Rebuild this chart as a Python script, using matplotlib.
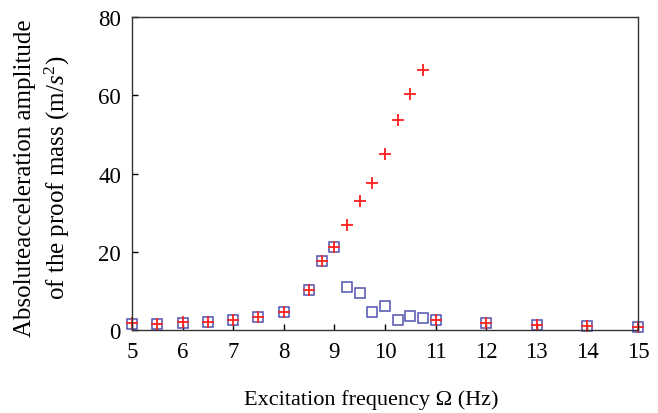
import matplotlib
matplotlib.use("Agg")
import matplotlib.pyplot as plt

freq = [5, 5.5, 6, 6.5, 7, 7.5, 8, 8.5, 8.75, 9, 9.25, 9.5, 9.75, 10, 10.25, 10.5, 10.75, 11, 12, 13, 14, 15]
linear_amp = [1.8, 1.5, 2.0, 2.1, 2.6, 3.2, 4.5, 10.2, 17.7, 21.3, 26.9, 33.0, 37.5, 44.9, 53.6, 60.3, 66.4, 2.6, 1.8, 1.4, 1.1, 0.7]
nonlinear_amp = [1.5, 1.5, 1.8, 2.1, 2.6, 3.2, 4.5, 10.2, 17.7, 21.3, 11.1, 9.5, 4.7, 6.2, 2.6, 3.5, 3.0, 2.6, 1.8, 1.4, 1.1, 0.7]
xticks = [5, 6, 7, 8, 9, 10, 11, 12, 13, 14, 15]
yticks = [0, 20, 40, 60, 80]

plt.rcParams['font.family'] = ['Liberation Serif', 'DejaVu Serif']
plt.rcParams['mathtext.fontset'] = 'custom'
plt.rcParams['mathtext.rm'] = 'Liberation Serif'
plt.rcParams['mathtext.it'] = 'Liberation Serif:italic'

fig = plt.figure(figsize=(6.58, 4.14), dpi=100)
ax = fig.add_axes([0.2006, 0.2005, 0.769, 0.756])

ax.plot(freq, nonlinear_amp, linestyle='none', marker='s', markersize=7.8,
        markerfacecolor='none', markeredgecolor='#5252b0', markeredgewidth=1.1, clip_on=False)
ax.plot(freq, linear_amp, linestyle='none', marker='+', markersize=9, markeredgecolor='#ff2020',
        markeredgewidth=1.3, clip_on=False)

ax.set_xlim(5, 15)
ax.set_ylim(0, 80)
ax.set_xticks(xticks)
ax.set_yticks(yticks)
ax.tick_params(direction='in', length=4, width=1, labelsize=16.5, top=False, right=False, pad=8)
for s in ax.spines.values():
    s.set_linewidth(1.0)
    s.set_color('#333333')

fig.text(371 / 658, 1 - 400 / 414, 'Excitation frequency Ω (Hz)', fontsize=16,
         ha='center', va='center')
fig.text(43 / 658, 1 - 178 / 414, 'Absoluteacceleration amplitude\nof the proof mass (m/$s^2$)',
         fontsize=18, rotation=90, ha='center', va='center', multialignment='center', linespacing=1.3)

fig.savefig('out.png', dpi=100)
